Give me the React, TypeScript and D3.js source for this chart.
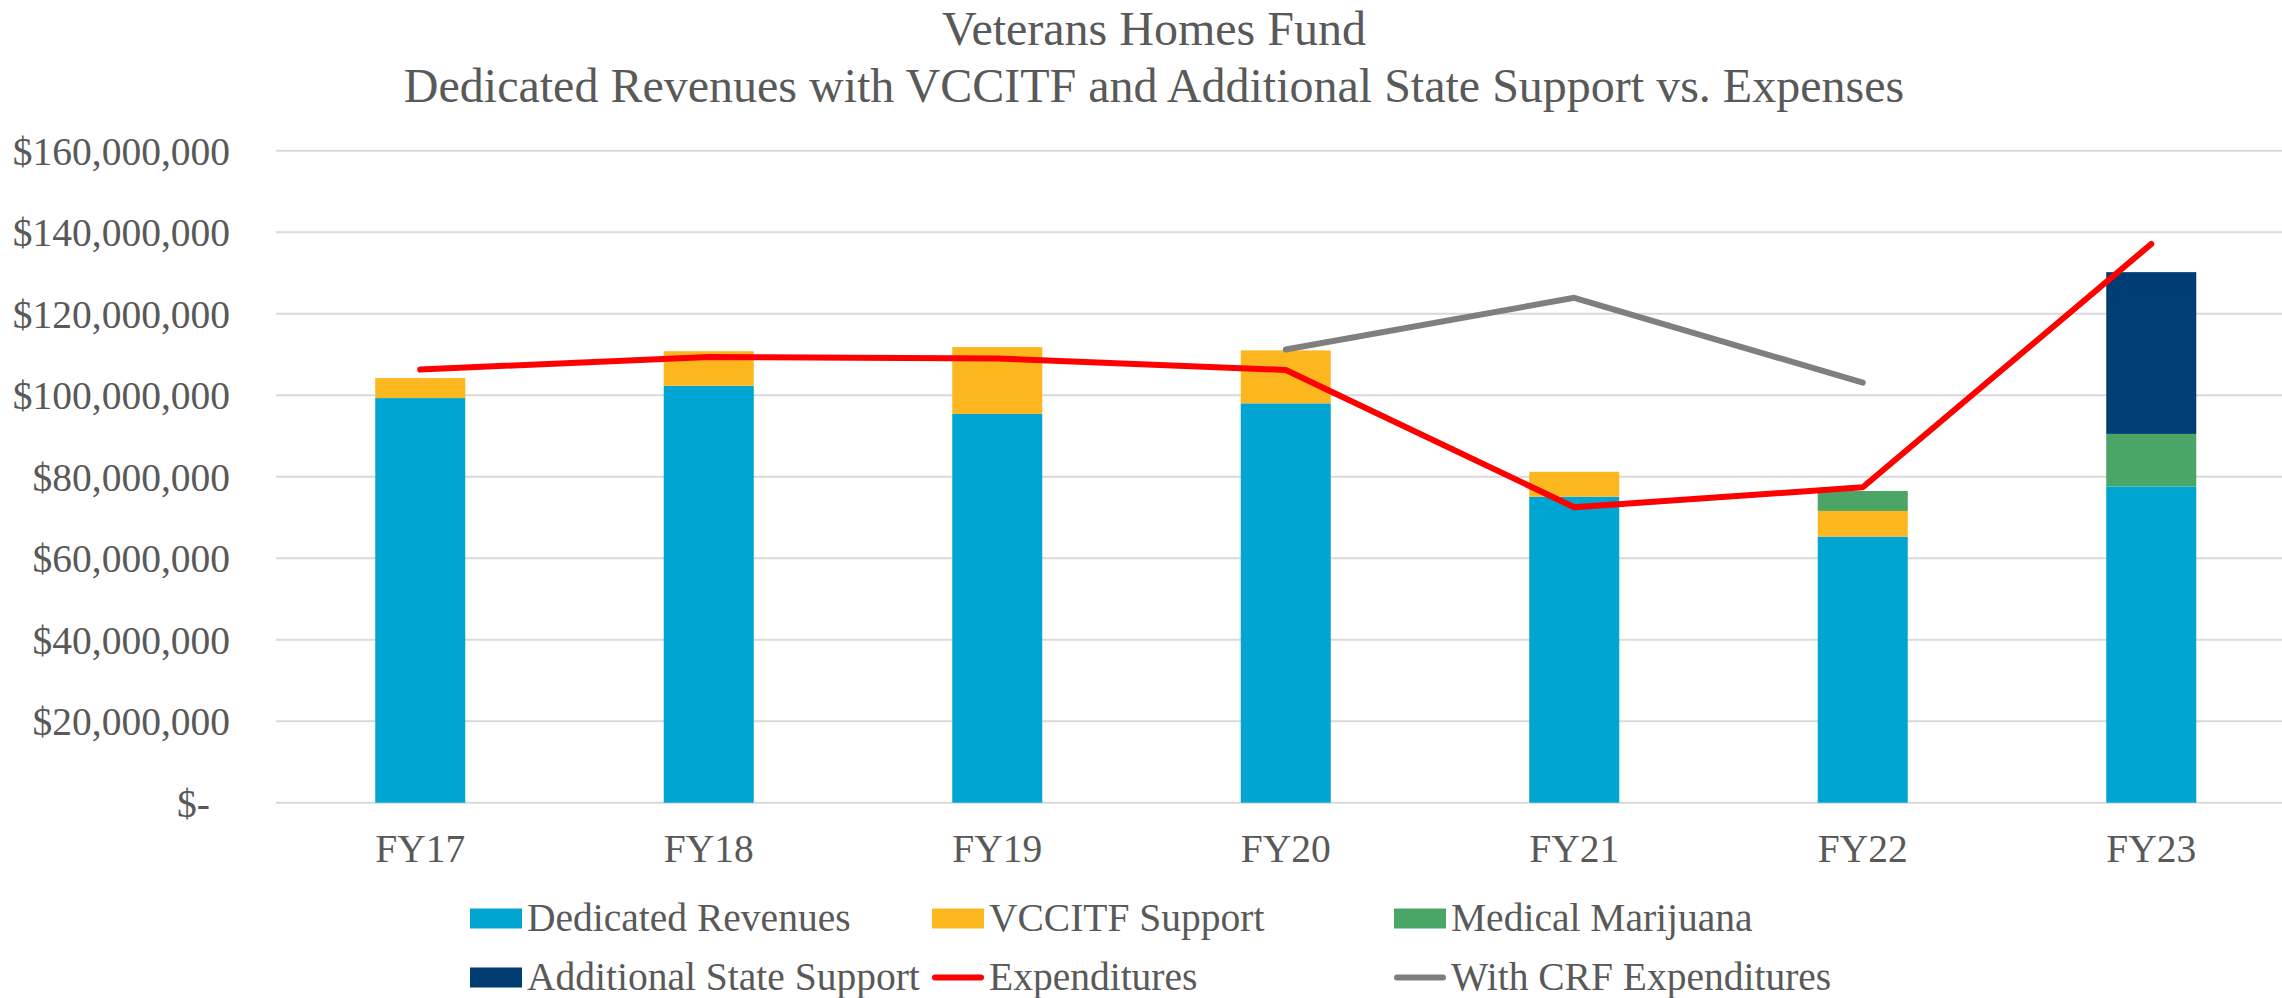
import React from 'react';
import * as d3 from 'd3';

const categories = ['FY17', 'FY18', 'FY19', 'FY20', 'FY21', 'FY22', 'FY23'];
const dedicatedRevenues = [99.3, 102.3, 95.4, 98.0, 75.1, 65.3, 77.6];
const vccitfSupport = [4.9, 8.5, 16.4, 13.0, 6.1, 6.3, 0];
const medicalMarijuana = [0, 0, 0, 0, 0, 4.9, 12.9];
const additionalStateSupport = [0, 0, 0, 0, 0, 0, 39.7];
const expenditures = [106.3, 109.4, 109.0, 106.2, 72.5, 77.4, 137.1];
const withCrfExpenditures = [null, null, null, 111.2, 123.9, 103.1, null];
const yTicks = [0, 20, 40, 60, 80, 100, 120, 140, 160];

const barSeries = [
  { key: 'dedicated', name: 'Dedicated Revenues', color: '#00A5D1', values: dedicatedRevenues },
  { key: 'vccitf', name: 'VCCITF Support', color: '#FDB71E', values: vccitfSupport },
  { key: 'medical', name: 'Medical Marijuana', color: '#4BA566', values: medicalMarijuana },
  { key: 'additional', name: 'Additional State Support', color: '#003D73', values: additionalStateSupport },
];

const lineSeries = [
  { key: 'exp', name: 'Expenditures', color: '#FF0000', values: expenditures },
  { key: 'crf', name: 'With CRF Expenditures', color: '#7F7F7F', values: withCrfExpenditures },
];

const W = 2282;
const H = 998;
const FONT = "'Times New Roman', 'Liberation Serif', serif";
const TEXT = '#595959';

const App = () => {
  const x = d3
    .scaleBand()
    .domain(categories)
    .range([276, 2295.5])
    .paddingInner(0.688)
    .paddingOuter(0.344);
  const y = d3.scaleLinear().domain([0, 160]).range([802.7, 150.7]);

  const table = categories.map((c, i) => {
    const row: any = { cat: c };
    barSeries.forEach((s) => {
      row[s.key] = s.values[i];
    });
    return row;
  });
  const stacked = d3.stack().keys(barSeries.map((s) => s.key))(table);

  const cx = (c: string) => (x(c) as number) + x.bandwidth() / 2;
  const fmt = d3.format(',');

  const legendItems = [
    ...barSeries.map((s) => ({ name: s.name, color: s.color, type: 'bar' })),
    ...lineSeries.map((s) => ({ name: s.name, color: s.color, type: 'line' })),
  ];
  const legendCols = [470, 932, 1394];
  const legendRows = [931, 990];

  return (
    <svg
      width={W}
      height={H}
      style={{ position: 'absolute', left: 0, top: 0, background: '#fff' }}
      fontFamily={FONT}
    >
      <text x={1154} y={45} textAnchor="middle" fontSize={48} fill={TEXT}>
        Veterans Homes Fund
      </text>
      <text x={1154} y={102} textAnchor="middle" fontSize={48} fill={TEXT}>
        Dedicated Revenues with VCCITF and Additional State Support vs. Expenses
      </text>

      {yTicks.map((t) => (
        <g key={t}>
          <line x1={276} x2={W} y1={y(t)} y2={y(t)} stroke="#D9D9D9" strokeWidth={2} />
          <text
            x={t === 0 ? 210 : 230}
            y={y(t)}
            dy="0.35em"
            textAnchor="end"
            fontSize={39.5}
            fill={TEXT}
          >
            {t === 0 ? '$-' : `$${fmt(t * 1000000)}`}
          </text>
        </g>
      ))}

      {stacked.map((layer, li) => (
        <g key={layer.key} fill={barSeries[li].color}>
          {layer.map((d, i) =>
            d[1] - d[0] > 0 ? (
              <rect
                key={categories[i]}
                x={x(categories[i])}
                width={x.bandwidth()}
                y={y(d[1])}
                height={y(d[0]) - y(d[1])}
              />
            ) : null,
          )}
        </g>
      ))}

      {categories.map((c) => (
        <text key={c} x={cx(c)} y={862} textAnchor="middle" fontSize={39.5} fill={TEXT}>
          {c}
        </text>
      ))}

      {lineSeries.map((s) => {
        const line = d3
          .line<number | null>()
          .defined((v) => v !== null)
          .x((_, i) => cx(categories[i]))
          .y((v) => y(v as number));
        return (
          <path
            key={s.key}
            d={line(s.values) || ''}
            fill="none"
            stroke={s.color}
            strokeWidth={6}
            strokeLinecap="round"
            strokeLinejoin="round"
          />
        );
      })}

      {legendItems.map((item, i) => {
        const lx = legendCols[i % 3];
        const ly = legendRows[Math.floor(i / 3)];
        return (
          <g key={item.name}>
            {item.type === 'bar' ? (
              <rect x={lx} y={ly - 22.5} width={52} height={20} fill={item.color} />
            ) : (
              <line
                x1={lx + 3}
                x2={lx + 49}
                y1={ly - 12.5}
                y2={ly - 12.5}
                stroke={item.color}
                strokeWidth={6}
                strokeLinecap="round"
              />
            )}
            <text x={lx + 57} y={ly} fontSize={39.5} fill={TEXT}>
              {item.name}
            </text>
          </g>
        );
      })}
    </svg>
  );
};

export default App;
